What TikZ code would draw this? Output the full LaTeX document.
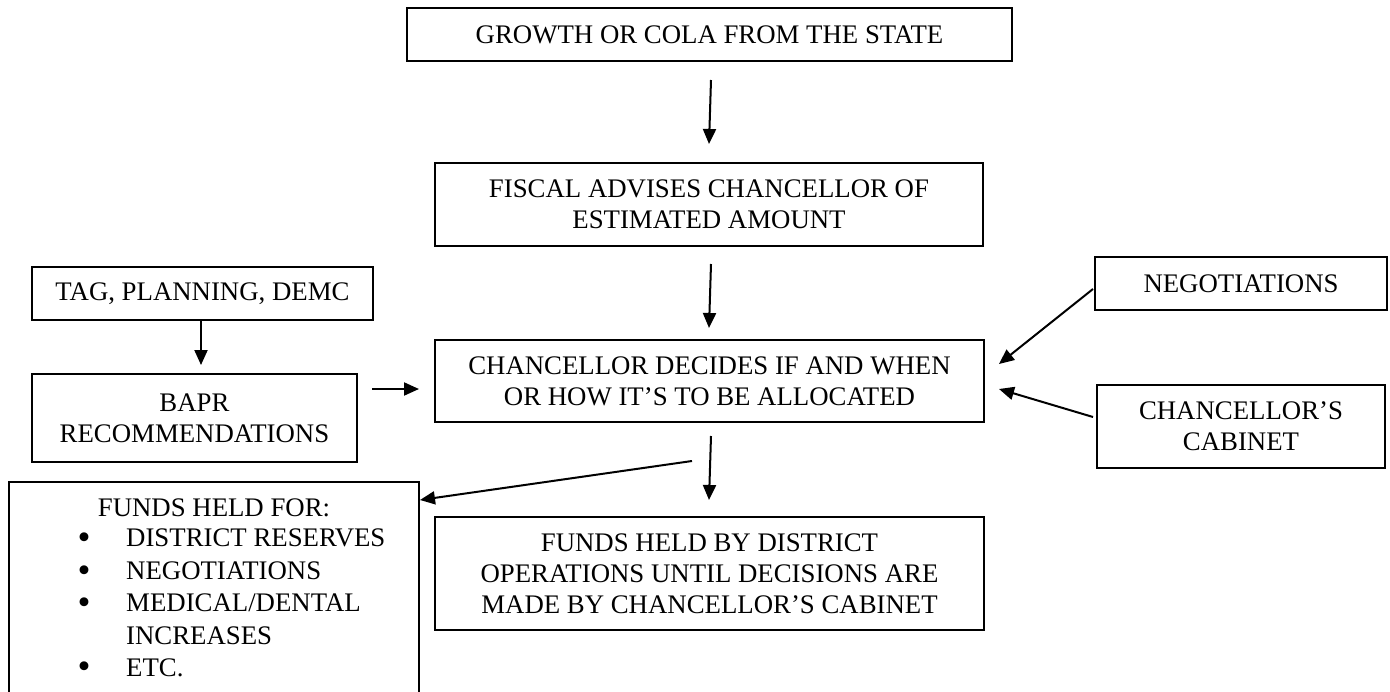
\documentclass[tikz,border=0pt]{standalone}
\usepackage{fontspec}
\setmainfont{Liberation Serif}
\usetikzlibrary{arrows.meta}
\begin{document}
\begin{tikzpicture}[x=1pt,y=-1pt,
  box/.style={draw, line width=1.8pt, inner sep=0pt, align=center,
    font=\fontsize{26.8}{31}\selectfont},
  txt/.style={inner sep=0pt, font=\fontsize{26.8}{31}\selectfont},
  listtxt/.style={inner sep=0pt, font=\fontsize{26.8}{32.5}\selectfont},
  bul/.style={inner sep=0pt, font=\fontsize{37}{37}\selectfont},
  conn/.style={line width=2pt, -{Triangle[length=15pt,width=13pt]}}]
\useasboundingbox (0,0) rectangle (1390,691);
\fill[white] (0,0) rectangle (1390,691);

\node[box, minimum width=605, minimum height=53] (growth) at (709.5,34.5) {GROWTH OR COLA FROM THE STATE};
\node[box, minimum width=548, minimum height=83] (fiscal) at (709,204.5) {FISCAL ADVISES CHANCELLOR OF\\ESTIMATED AMOUNT};
\node[box, minimum width=549, minimum height=82] (chanc) at (709.5,381) {CHANCELLOR DECIDES IF AND WHEN\\OR HOW IT’S TO BE ALLOCATED};
\node[box, minimum width=549, minimum height=113] (fundsby) at (709.5,573.5) {FUNDS HELD BY DISTRICT\\OPERATIONS UNTIL DECISIONS ARE\\MADE BY CHANCELLOR’S CABINET};
\node[box, minimum width=341, minimum height=53] (tag) at (202.5,293.5) {TAG, PLANNING, DEMC};
\node[box, minimum width=325, minimum height=88] (bapr) at (194.5,418) {BAPR\\RECOMMENDATIONS};
\node[box, minimum width=292, minimum height=53] (neg) at (1241,283.5) {NEGOTIATIONS};
\node[box, minimum width=288, minimum height=83] (cab) at (1241,426.5) {CHANCELLOR’S\\CABINET};
\node[box, minimum width=410, minimum height=260, anchor=north] (fundsfor) at (214,481) {};
\node[txt] (fftitle) at (214,508) {FUNDS HELD FOR:};
\node[listtxt, anchor=west, align=left] (fflist) at (126,603) {%
DISTRICT RESERVES\\
NEGOTIATIONS\\
MEDICAL/DENTAL\\
INCREASES\\
ETC.};
\node[bul] (b1) at (84,541) {\textbullet};
\node[bul] (b2) at (84,574) {\textbullet};
\node[bul] (b3) at (84,606) {\textbullet};
\node[bul] (b4) at (84,670) {\textbullet};

\coordinate (a1s) at (711,80);   \coordinate (a1e) at (709,144);
\coordinate (a2s) at (711,264);  \coordinate (a2e) at (709,328);
\coordinate (a3e) at (201,365);
\coordinate (a4s) at (372,389);  \coordinate (a4e) at (419,389);
\coordinate (a5s) at (1093,289); \coordinate (a5e) at (999,364);
\coordinate (a6s) at (1093,417); \coordinate (a6e) at (999,389);
\coordinate (a7s) at (692,461);  \coordinate (a7e) at (420,500);
\coordinate (a8s) at (711,436);  \coordinate (a8e) at (709,500);

\draw[conn] (a1s) -- (a1e);
\draw[conn] (a2s) -- (a2e);
\draw[conn] (tag.south -| a3e) -- (a3e);
\draw[conn] (a4s) -- (a4e);
\draw[conn] (a5s) -- (a5e);
\draw[conn] (a6s) -- (a6e);
\draw[conn] (a7s) -- (a7e);
\draw[conn] (a8s) -- (a8e);
\end{tikzpicture}
\end{document}
